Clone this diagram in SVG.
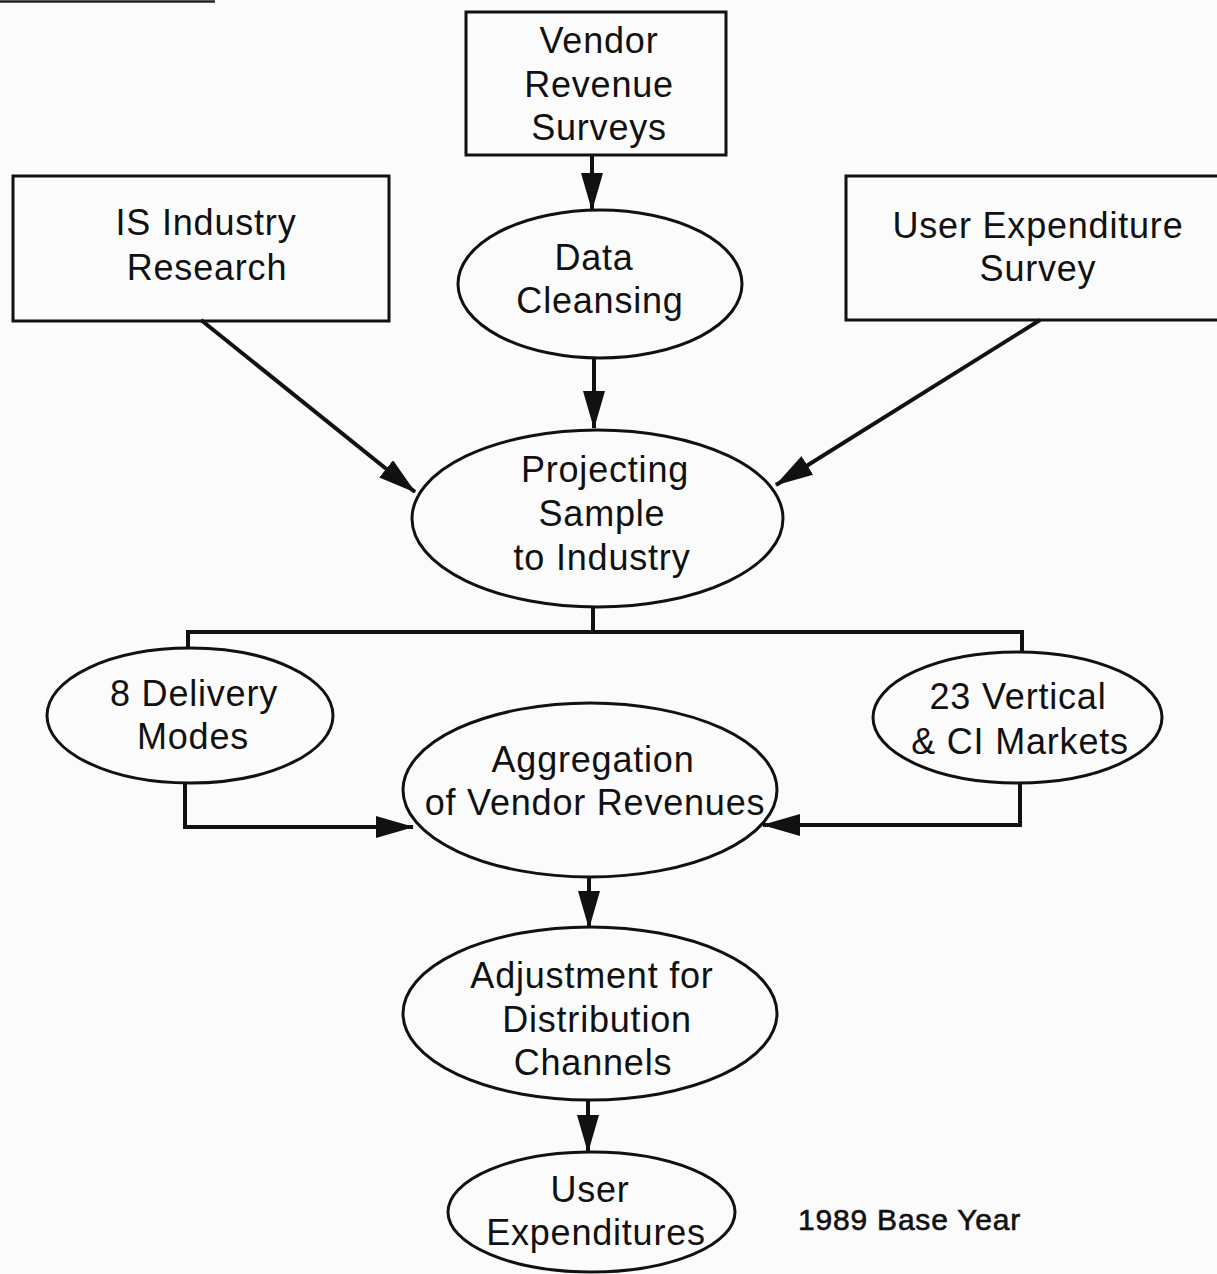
<svg xmlns="http://www.w3.org/2000/svg" width="1217" height="1274" viewBox="0 0 1217 1274">
<style>
  .box { fill: none; stroke: #111; stroke-width: 3; }
  .node { fill: none; stroke: #111; stroke-width: 3; }
  .lbl { font-family: "Liberation Sans", Arial, Helvetica, sans-serif; font-size: 36px; letter-spacing: 0.8px; fill: #111; text-anchor: middle; }
  .conn { fill: none; stroke: #111; stroke-width: 4; }
  .note { font-family: "Liberation Sans", Arial, Helvetica, sans-serif; font-size: 30px; letter-spacing: 0.8px; fill: #111; stroke: #111; stroke-width: 0.6; }
</style>
<defs>
  <marker id="arr" markerUnits="userSpaceOnUse" markerWidth="38" markerHeight="22" refX="37" refY="11" orient="auto">
    <path d="M0,0 L38,11 L0,22 Z" fill="#111"/>
  </marker>
</defs>
<rect width="1217" height="1274" fill="#fbfbfc"/>
<line x1="0" y1="1.5" x2="215" y2="1.5" stroke="#222" stroke-width="2.5"/>

<g id="connectors">
  <path class="conn" d="M592,155 L592,210" marker-end="url(#arr)"/>
  <path class="conn" d="M201,320 L415,492" stroke-width="5" marker-end="url(#arr)"/>
  <path class="conn" d="M1040,320 L776,485" stroke-width="5" marker-end="url(#arr)"/>
  <path class="conn" d="M594,358 L594,428" marker-end="url(#arr)"/>
  <path class="conn" d="M593,607 L593,632"/>
  <path class="conn" d="M188,648 L188,632 L1022,632 L1022,652"/>
  <path class="conn" d="M185,783 L185,827 L413,827" marker-end="url(#arr)"/>
  <path class="conn" d="M1020,783 L1020,825 L763,825" marker-end="url(#arr)"/>
  <path class="conn" d="M589,877 L589,928" marker-end="url(#arr)"/>
  <path class="conn" d="M588,1100 L588,1152" marker-end="url(#arr)"/>
</g>

<g id="vendor-revenue-surveys">
  <rect class="box" x="466" y="12" width="260" height="143"/>
  <text class="lbl" x="599" y="53">Vendor</text>
  <text class="lbl" x="599" y="97">Revenue</text>
  <text class="lbl" x="599" y="140">Surveys</text>
</g>

<g id="is-industry-research">
  <rect class="box" x="13" y="176" width="376" height="145"/>
  <text class="lbl" x="206" y="235">IS Industry</text>
  <text class="lbl" x="207" y="280">Research</text>
</g>

<g id="user-expenditure-survey">
  <rect class="box" x="846" y="176" width="375" height="144"/>
  <text class="lbl" x="1038" y="238">User Expenditure</text>
  <text class="lbl" x="1038" y="281">Survey</text>
</g>

<g id="data-cleansing">
  <ellipse class="node" cx="600" cy="284" rx="142" ry="74"/>
  <text class="lbl" x="594" y="270">Data</text>
  <text class="lbl" x="600" y="313">Cleansing</text>
</g>

<g id="projecting-sample">
  <ellipse class="node" cx="597.5" cy="518.5" rx="185.5" ry="88.5"/>
  <text class="lbl" x="605" y="482">Projecting</text>
  <text class="lbl" x="602" y="526">Sample</text>
  <text class="lbl" x="602" y="570">to Industry</text>
</g>

<g id="delivery-modes">
  <ellipse class="node" cx="190" cy="715.5" rx="143" ry="67.5"/>
  <text class="lbl" x="194" y="706">8 Delivery</text>
  <text class="lbl" x="193" y="749">Modes</text>
</g>

<g id="vertical-markets">
  <ellipse class="node" cx="1017.5" cy="717.5" rx="144.5" ry="65.5"/>
  <text class="lbl" x="1018" y="709">23 Vertical</text>
  <text class="lbl" x="1020" y="754">&amp; CI Markets</text>
</g>

<g id="aggregation">
  <ellipse class="node" cx="590" cy="790" rx="187" ry="87"/>
  <text class="lbl" x="593" y="772">Aggregation</text>
  <text class="lbl" x="595" y="815">of Vendor Revenues</text>
</g>

<g id="adjustment">
  <ellipse class="node" cx="590" cy="1013.5" rx="187" ry="86.5"/>
  <text class="lbl" x="592" y="988">Adjustment for</text>
  <text class="lbl" x="597" y="1032">Distribution</text>
  <text class="lbl" x="593" y="1075">Channels</text>
</g>

<g id="user-expenditures">
  <ellipse class="node" cx="591.5" cy="1212" rx="143.5" ry="60"/>
  <text class="lbl" x="590" y="1202">User</text>
  <text class="lbl" x="596" y="1245">Expenditures</text>
</g>

<g id="base-year">
  <text class="note" x="798" y="1230">1989 Base Year</text>
</g>
</svg>
